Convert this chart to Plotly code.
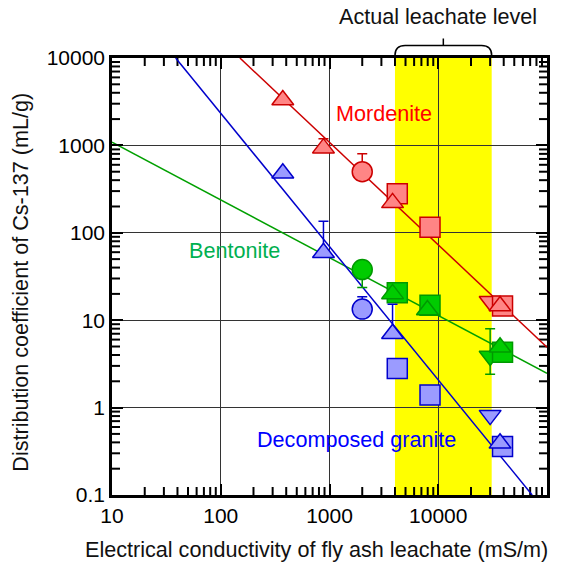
import plotly.graph_objects as go

# Kd of Cs-137 (mL/g) against electrical conductivity of the fly ash leachate (mS/m)
# Conditions: "A" triangle-up, "B" circle, "C" square, "D" triangle-down

mordenite_ec = [372, 880, 3800, 37000, 2000, 4200, 8400, 39000, 30000]
mordenite_kd = [3300, 930, 220, 14.5, 500, 280, 116, 14.5, 16.5]
mordenite_kd_hi = [None, 1190, None, None, 800, None, None, None, None]
mordenite_kd_lo = [None, None, None, None, None, None, None, None, None]
mordenite_cond = ["A", "A", "A", "A", "B", "C", "C", "C", "D"]

bentonite_ec = [3800, 7950, 37000, 2000, 4200, 8400, 39000, 30000]
bentonite_kd = [20, 13.1, 4.9, 38, 20.6, 14.8, 4.3, 3.9]
bentonite_kd_hi = [None, None, None, None, None, None, None, 8.0]
bentonite_kd_lo = [None, None, None, 23.7, None, None, None, 2.4]
bentonite_cond = ["A", "A", "A", "B", "C", "C", "C", "D"]

granite_ec = [372, 880, 3800, 37000, 2000, 4200, 8400, 39000, 30000]
granite_kd = [480, 59, 7.0, 0.39, 13.4, 2.8, 1.39, 0.36, 0.82]
granite_kd_hi = [None, 136, 15.2, None, 18.5, None, None, None, None]
granite_kd_lo = [None, None, None, None, None, None, None, None, None]
granite_cond = ["A", "A", "A", "A", "B", "C", "C", "C", "D"]

# Regression lines (end points)
mordenite_fit_ec = [150, 100000]
mordenite_fit_kd = [10000, 4.9]
bentonite_fit_ec = [10, 100000]
bentonite_fit_kd = [1090, 2.47]
granite_fit_ec = [38.5, 73000]
granite_fit_kd = [10000, 0.1]

# Range of conductivity seen in real leachate
leachate_ec_range = [4000, 31000]

x_tick_vals = [10, 100, 1000, 10000, 100000]
x_tick_text = ["10", "100", "1000", "10000", "100000"]
y_tick_vals = [0.1, 1, 10, 100, 1000, 10000]
y_tick_text = ["0.1", "1", "10", "100", "1000", "10000"]

SYMBOLS = {"A": "triangle-up", "B": "circle", "C": "square", "D": "triangle-down"}
DRAW_ORDER = ["D", "B", "C", "A"]
SIZES = {"A": 19, "B": 20, "C": 20, "D": 19}

FONT = "Liberation Sans, Arial, sans-serif"
TEXT_SIZE = 21.6
TICK_SIZE = 21

X_RANGE = [1, 5]      # log10 of 10 .. 100000
Y_RANGE = [-1, 4]     # log10 of 0.1 .. 10000
PLOT_W, PLOT_H = 435, 437

materials = [
    dict(name="Mordenite", ec=mordenite_ec, kd=mordenite_kd, hi=mordenite_kd_hi,
         lo=mordenite_kd_lo, cond=mordenite_cond, fit_ec=mordenite_fit_ec,
         fit_kd=mordenite_fit_kd, fill="#FF8585", edge="#CC0000", line="#CC0000"),
    dict(name="Bentonite", ec=bentonite_ec, kd=bentonite_kd, hi=bentonite_kd_hi,
         lo=bentonite_kd_lo, cond=bentonite_cond, fit_ec=bentonite_fit_ec,
         fit_kd=bentonite_fit_kd, fill="#00CC00", edge="#009900", line="#00A000"),
    dict(name="Decomposed granite", ec=granite_ec, kd=granite_kd, hi=granite_kd_hi,
         lo=granite_kd_lo, cond=granite_cond, fit_ec=granite_fit_ec,
         fit_kd=granite_fit_kd, fill="#9B9BFF", edge="#0000CC", line="#0000CC"),
]

fig = go.Figure()

# minor tick marks (2..9 in each decade) on all four sides, pointing inward
MINOR_LEN = 8
x_lo, x_hi = 10 ** X_RANGE[0], 10 ** X_RANGE[1]
y_lo, y_hi = 10 ** Y_RANGE[0], 10 ** Y_RANGE[1]
step_y = 10 ** (MINOR_LEN * (Y_RANGE[1] - Y_RANGE[0]) / PLOT_H)
step_x = 10 ** (MINOR_LEN * (X_RANGE[1] - X_RANGE[0]) / PLOT_W)
minor_x = [k * 10 ** e for e in range(X_RANGE[0], X_RANGE[1]) for k in range(2, 10)]
minor_y = [k * 10 ** e for e in range(Y_RANGE[0], Y_RANGE[1]) for k in range(2, 10)]
tx, ty = [], []
for v in minor_x:
    tx += [v, v, None, v, v, None]
    ty += [y_lo, y_lo * step_y, None, y_hi, y_hi / step_y, None]
for v in minor_y:
    tx += [x_lo, x_lo * step_x, None, x_hi, x_hi / step_x, None]
    ty += [v, v, None, v, v, None]
fig.add_trace(go.Scatter(x=tx, y=ty, mode="lines", connectgaps=False,
                         line=dict(color="black", width=2), hoverinfo="skip"))

# fitted lines below the markers
for m in materials:
    fig.add_trace(go.Scatter(
        x=m["fit_ec"], y=m["fit_kd"], mode="lines",
        line=dict(color=m["line"], width=1.5), hoverinfo="skip"))

for m in materials:
    for c in DRAW_ORDER:
        idx = [i for i, k in enumerate(m["cond"]) if k == c]
        if not idx:
            continue
        xs = [m["ec"][i] for i in idx]
        ys = [m["kd"][i] for i in idx]
        plus = [(m["hi"][i] - m["kd"][i]) if m["hi"][i] is not None else 0 for i in idx]
        minus = [(m["kd"][i] - m["lo"][i]) if m["lo"][i] is not None else 0 for i in idx]
        has_err = any(p > 0 for p in plus) or any(q > 0 for q in minus)
        fig.add_trace(go.Scatter(
            x=xs, y=ys, mode="markers", name=m["name"],
            marker=dict(symbol=SYMBOLS[c], size=SIZES[c], color=m["fill"],
                        line=dict(color=m["edge"], width=1.5)),
            error_y=dict(type="data", symmetric=False, array=plus, arrayminus=minus,
                         color=m["edge"], thickness=1.5, width=5, visible=has_err),
        ))

axis_common = dict(
    type="log", ticks="inside", ticklen=11, tickwidth=2, tickcolor="black",
    showline=True, linewidth=2.5, linecolor="black", mirror="allticks",
    showgrid=True, gridcolor="#333333", gridwidth=1, zeroline=False,
    tickfont=dict(family=FONT, size=TICK_SIZE, color="black"),
)
fig.update_xaxes(range=X_RANGE, tickmode="array", tickvals=x_tick_vals,
                 ticktext=x_tick_text, **axis_common)
fig.update_yaxes(range=Y_RANGE, tickmode="array", tickvals=y_tick_vals,
                 ticktext=y_tick_text, **axis_common)

# leachate band and brace above it
lo_ec, hi_ec = leachate_ec_range
mid_ec = (lo_ec * hi_ec) ** 0.5
fig.add_shape(type="rect", xref="x", yref="paper", x0=lo_ec, x1=hi_ec, y0=0, y1=1,
              fillcolor="#FFFF00", line=dict(width=0), layer="below")
bend = 1.24
path = (f"M {lo_ec},1.006 Q {lo_ec},1.0286 {lo_ec * bend},1.0286 "
        f"L {hi_ec / bend},1.0286 Q {hi_ec},1.0286 {hi_ec},1.006 "
        f"M {mid_ec},1.0286 L {mid_ec},1.0446")
fig.add_shape(type="path", xref="x", yref="paper", path=path,
              line=dict(color="black", width=1.5))

annotations = [
    dict(text="Actual leachate level", x=0.749, y=1.0955, color="#111111"),
    dict(text="Mordenite", x=0.625, y=0.873, color="#FF0000"),
    dict(text="Bentonite", x=0.281, y=0.560, color="#00B050"),
    dict(text="Decomposed granite", x=0.563, y=0.127, color="#0000FF"),
    dict(text="Electrical conductivity of fly ash leachate (mS/m)", x=0.469, y=-0.1247,
         color="#111111"),
]
for a in annotations:
    fig.add_annotation(text=a["text"], x=a["x"], y=a["y"], xref="paper", yref="paper",
                       xanchor="center", yanchor="middle", showarrow=False,
                       font=dict(family=FONT, size=TEXT_SIZE, color=a["color"]))
fig.add_annotation(text="Distribution coefficient of Cs-137 (mL/g)", x=-0.209, y=0.486,
                   xref="paper", yref="paper", xanchor="center", yanchor="middle",
                   textangle=-90, showarrow=False,
                   font=dict(family=FONT, size=TEXT_SIZE, color="#111111"))

fig.update_layout(
    width=580, height=565,
    margin=dict(l=112, r=33, t=58, b=70),
    paper_bgcolor="white", plot_bgcolor="white",
    showlegend=False,
    font=dict(family=FONT, size=TICK_SIZE, color="black"),
)

fig.write_html("out.html")
